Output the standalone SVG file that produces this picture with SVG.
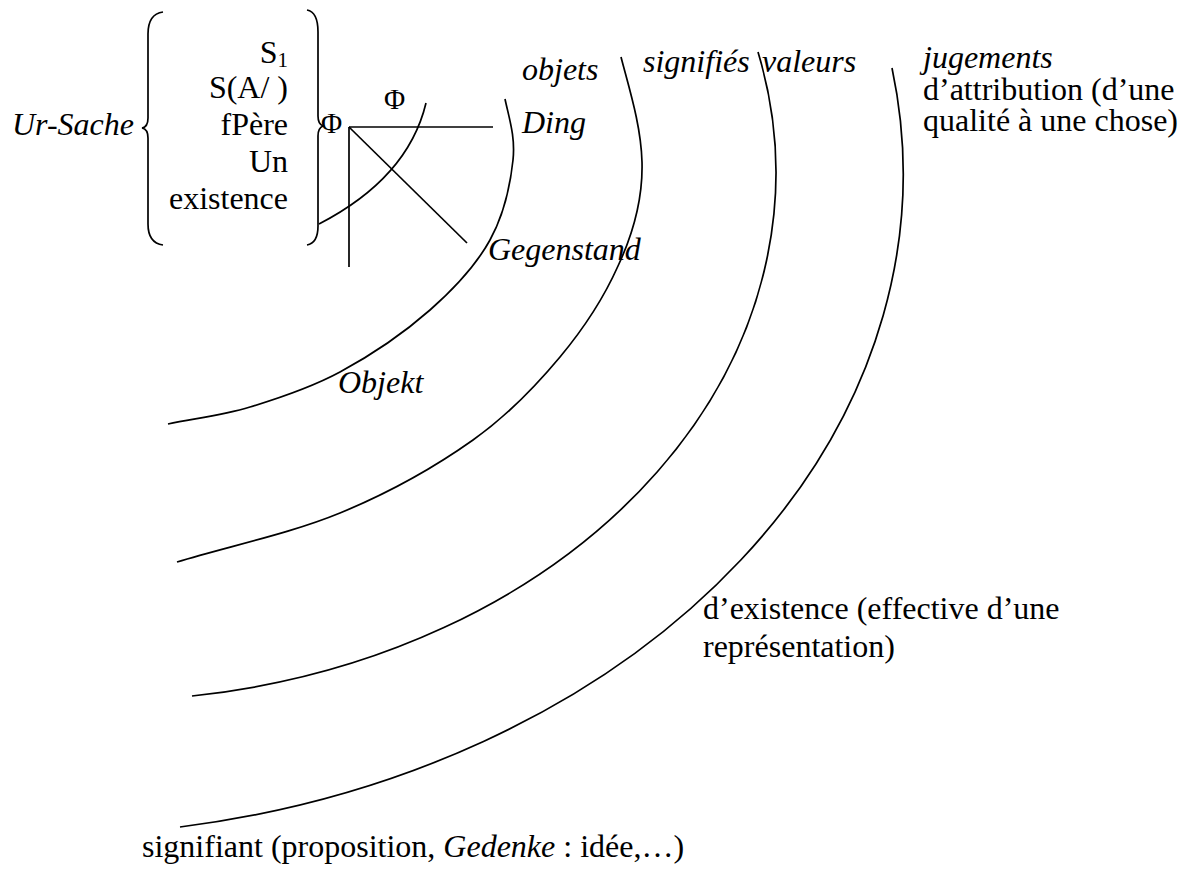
<svg xmlns="http://www.w3.org/2000/svg" width="1192" height="870" viewBox="0 0 1192 870">
<style>
.t{font-family:"Liberation Serif","Times New Roman","DejaVu Serif",serif;font-size:32px;fill:#000}
.i{font-style:italic}
.ln{fill:none;stroke:#000;stroke-width:1.7}
</style>
<rect width="1192" height="870" fill="#fff"/>
<g id="connectors">
<path class="ln" d="M163 12 Q148 14 148 34 L148 118 Q148 127 142 128 Q148 129 148 138 L148 224 Q148 243 163 245"/>
<path class="ln" d="M307 10 Q318 12 318 32 L318 116 Q318 124 323 126 Q318 128 318 136 L318 226 Q318 243 307 245"/>
<line class="ln" x1="349" y1="127" x2="493" y2="127"/>
<line class="ln" x1="349" y1="127" x2="349" y2="267"/>
<line class="ln" x1="349" y1="127" x2="467" y2="243"/>
<path class="ln" d="M319 224 Q408 178 426 103"/>
<path class="ln" d="M505 99 C509 118 515.5 136.5 513 160 C510.5 183.5 503.8 215 490 240 C476.2 265 455 288 430 310 C405 332 370 355.8 340 372 C310 388.2 278.7 398.3 250 407 C221.3 415.7 195.3 418.3 168 424"/>
<path class="ln" d="M621 57 C629 88 641 125 642 162 C643 200 632 236 618 266 C603.3 299 584 328.2 560 357 C536 385.8 509.7 414 473 440 C436.3 466 389.3 492.7 340 513 C290.7 533.3 231.3 545.7 177 562"/>
<path class="ln" d="M758 52 A675 528 0 0 1 192 696"/>
<path class="ln" d="M892 68 A865 662 0 0 1 180 827"/>
</g>
<g id="ursache"><text class="t i" x="12" y="135">Ur-Sache</text></g>
<g id="list">
<text class="t" x="288" y="63" text-anchor="end">S<tspan style="font-size:21px" dy="4">1</tspan></text>
<text class="t" x="288" y="98" text-anchor="end">S(A/ )</text>
<text class="t" x="288" y="135" text-anchor="end">fPère</text>
<text class="t" x="288" y="172" text-anchor="end">Un</text>
<text class="t" x="288" y="209" text-anchor="end">existence</text>
</g>
<g id="phi1"><text class="t" x="321" y="133" style="font-size:29px">Φ</text></g>
<g id="phi2"><text class="t" x="384" y="109" style="font-size:29px">Φ</text></g>
<g id="objets"><text class="t i" x="522" y="80">objets</text></g>
<g id="ding"><text class="t i" x="522" y="133">Ding</text></g>
<g id="gegenstand"><text class="t i" x="488" y="260">Gegenstand</text></g>
<g id="objekt"><text class="t i" x="338" y="393">Objekt</text></g>
<g id="signifies"><text class="t i" x="643" y="72">signifiés</text></g>
<g id="valeurs"><text class="t i" x="762" y="72">valeurs</text></g>
<g id="jugements">
<text class="t i" x="923" y="68">jugements</text>
<text class="t" x="923" y="100">d’attribution (d’une</text>
<text class="t" x="923" y="131">qualité à une chose)</text>
</g>
<g id="existence">
<text class="t" x="703" y="619">d’existence (effective d’une</text>
<text class="t" x="703" y="657">représentation)</text>
</g>
<g id="signifiant"><text class="t" x="142" y="857">signifiant (proposition, <tspan class="i">Gedenke</tspan> : idée,…)</text></g>
</svg>
